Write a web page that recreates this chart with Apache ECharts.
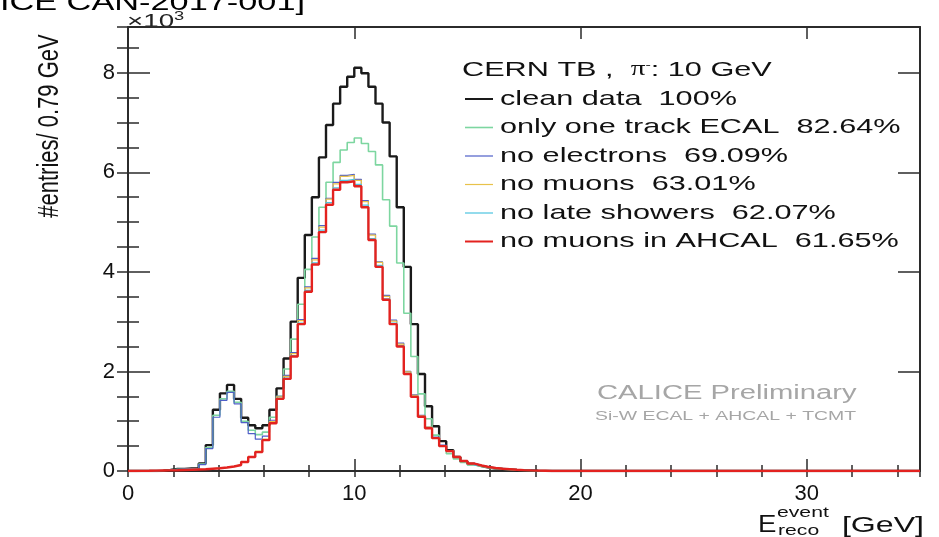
<!DOCTYPE html>
<html>
<head>
<meta charset="utf-8">
<title>Reconstructed energy, 10 GeV pions</title>
<script src="https://cdn.jsdelivr.net/npm/echarts@6/dist/echarts.min.js"></script>
<style>
  html, body { margin: 0; padding: 0; background: #ffffff; }
  #chart { width: 939px; height: 537px; }
</style>
</head>
<body>
<div id="chart"></div>
<script>
// Histogram binning (GeV) and axis ranges; counts are in units of 10^3 entries.
const binWidth = 0.3125;
const xRange = [0, 35];
const yRange = [0, 8.92];
const xTickStep = 10;
const xMinorStep = 2;
const yTickStep = 2;
const yMinorStep = 0.5;

// Selection steps, in the order the cuts are applied
const selectionNames = ['clean data', 'only one track ECAL', 'no electrons', 'no muons', 'no late showers', 'no muons in AHCAL'];
const selectionFractions = ['100%', '82.64%', '69.09%', '63.01%', '62.07%', '61.65%'];
const selectionColors = ['#1a1a1a', '#7dd6a0', '#4f5fc8', '#e8c24a', '#4cc4e0', '#e3221f'];
const selectionWidths = [2.4, 1.6, 1.2, 1.2, 1.2, 2.4];

// Bin contents (x10^3 entries per bin), bins starting at 0 GeV; later bins are empty.
const cleanData = [
  0, 0, 0, 0, 0.005, 0.02, 0.04, 0.04, 0.05, 0.05,
  0.15, 0.52, 1.23, 1.56, 1.73, 1.45, 1.07, 0.92, 0.86, 0.92,
  1.23, 1.66, 2.26, 3.0, 3.88, 4.74, 5.5, 6.3, 6.95, 7.38,
  7.72, 7.92, 8.1, 7.99, 7.72, 7.38, 7.0, 6.32, 5.3, 4.1,
  2.95, 1.95, 1.3, 0.9, 0.6, 0.42, 0.28, 0.19, 0.14, 0.1,
  0.07, 0.05, 0.04, 0.03, 0.02, 0.015, 0.01, 0.005, 0.003, 0
];
const oneTrackData = [
  0, 0, 0, 0, 0.005, 0.02, 0.035, 0.04, 0.045, 0.045,
  0.14, 0.47, 1.12, 1.45, 1.6, 1.38, 1.0, 0.82, 0.73, 0.78,
  1.08, 1.5, 2.05, 2.65, 3.35, 4.05, 4.7, 5.3, 5.8, 6.2,
  6.45, 6.6, 6.69, 6.58, 6.42, 6.15, 5.45, 4.92, 4.18, 3.17,
  2.3, 1.55, 1.05, 0.72, 0.5, 0.35, 0.24, 0.17, 0.12, 0.09,
  0.065, 0.045, 0.035, 0.025, 0.018, 0.012, 0.008, 0.004, 0.002, 0
];
const noElectronData = [
  0, 0, 0, 0, 0.005, 0.02, 0.035, 0.04, 0.04, 0.045,
  0.13, 0.45, 1.08, 1.42, 1.58, 1.35, 0.97, 0.75, 0.64, 0.7,
  1.02, 1.5, 1.92, 2.38, 3.04, 3.7, 4.27, 4.93, 5.48, 5.8,
  5.94, 5.96, 5.86, 5.43, 4.76, 4.2, 3.53, 3.03, 2.57, 2.0,
  1.53, 1.12, 0.88, 0.68, 0.52, 0.41, 0.29, 0.21, 0.155, 0.115,
  0.085, 0.065, 0.05, 0.04, 0.03, 0.02, 0.015, 0.01, 0.005, 0
];
const noMuonData = [
  0, 0.003, 0.005, 0.008, 0.01, 0.013, 0.016, 0.02, 0.026, 0.032,
  0.037, 0.047, 0.058, 0.075, 0.095, 0.13, 0.19, 0.29, 0.4, 0.64,
  0.99, 1.49, 1.9, 2.36, 3.02, 3.68, 4.24, 4.9, 5.46, 5.77,
  5.92, 5.94, 5.84, 5.41, 4.74, 4.19, 3.51, 3.01, 2.55, 1.99,
  1.52, 1.11, 0.88, 0.67, 0.51, 0.41, 0.285, 0.205, 0.153, 0.112,
  0.082, 0.061, 0.046, 0.036, 0.026, 0.018, 0.012, 0.008, 0.004, 0
];
const noLateShowerData = [
  0, 0.003, 0.005, 0.008, 0.01, 0.012, 0.015, 0.02, 0.025, 0.03,
  0.035, 0.045, 0.056, 0.071, 0.091, 0.122, 0.182, 0.283, 0.385, 0.625,
  0.97, 1.46, 1.865, 2.32, 2.97, 3.63, 4.18, 4.84, 5.39, 5.69,
  5.84, 5.86, 5.76, 5.34, 4.67, 4.13, 3.46, 2.97, 2.52, 1.96,
  1.5, 1.1, 0.865, 0.665, 0.503, 0.403, 0.282, 0.201, 0.151, 0.11,
  0.08, 0.06, 0.045, 0.035, 0.025, 0.018, 0.012, 0.008, 0.004, 0
];
const noMuonAhcalData = [
  0, 0.003, 0.005, 0.008, 0.01, 0.012, 0.015, 0.02, 0.025, 0.03,
  0.035, 0.045, 0.055, 0.07, 0.09, 0.12, 0.18, 0.28, 0.38, 0.62,
  0.96, 1.45, 1.85, 2.3, 2.95, 3.6, 4.15, 4.8, 5.35, 5.65,
  5.8, 5.82, 5.72, 5.3, 4.64, 4.1, 3.44, 2.95, 2.5, 1.95,
  1.49, 1.09, 0.86, 0.66, 0.5, 0.4, 0.28, 0.2, 0.15, 0.11,
  0.08, 0.06, 0.045, 0.035, 0.025, 0.018, 0.012, 0.008, 0.004, 0
];
const selectionData = [cleanData, oneTrackData, noElectronData, noMuonData, noLateShowerData, noMuonAhcalData];

// Step outline of a histogram: one point per lower bin edge, closed at the range end.
function histogramPoints(counts) {
  const pts = counts.map((v, k) => [k * binWidth, v]);
  pts.push([counts.length * binWidth, counts[counts.length - 1]]);
  pts.push([xRange[1], 0]);
  return pts;
}

const FONT = '"Liberation Sans", Arial, Helvetica, sans-serif';
const STRETCH = 1.46;   // wide lettering of the plot's text
const frameColor = '#2b2b2b';

function valueAxis(extra) {
  return Object.assign({
    type: 'value',
    splitLine: { show: false },
    axisLine: { show: true, onZero: false, lineStyle: { color: frameColor, width: 2 } },
    axisTick: { show: true, inside: true, lineStyle: { color: frameColor, width: 1.5 } },
    axisLabel: { show: false },
    silent: true
  }, extra);
}

const xCommon = { min: xRange[0], max: xRange[1] };
const yCommon = { min: yRange[0], max: yRange[1] };

const xAxes = [
  valueAxis(Object.assign({}, xCommon, {
    position: 'bottom', interval: xTickStep,
    axisTick: { show: true, inside: true, length: 12, lineStyle: { color: frameColor, width: 1.5 } },
    axisLabel: { show: true, showMaxLabel: false, margin: 12, fontSize: 22, fontFamily: FONT, color: '#111' }
  })),
  valueAxis(Object.assign({}, xCommon, {
    position: 'bottom', interval: xMinorStep, axisLine: { show: false },
    axisTick: { show: true, inside: true, length: 6, lineStyle: { color: frameColor, width: 1.5 } }
  })),
  valueAxis(Object.assign({}, xCommon, {
    position: 'top', interval: xTickStep,
    axisTick: { show: true, inside: true, length: 12, lineStyle: { color: frameColor, width: 1.5 } }
  })),
  valueAxis(Object.assign({}, xCommon, {
    position: 'top', interval: xMinorStep, axisLine: { show: false },
    axisTick: { show: true, inside: true, length: 6, lineStyle: { color: frameColor, width: 1.5 } }
  }))
];

const yAxes = [
  valueAxis(Object.assign({}, yCommon, {
    position: 'left', interval: yTickStep,
    axisTick: { show: true, inside: true, length: 22, lineStyle: { color: frameColor, width: 1.5 } },
    axisLabel: { show: true, showMaxLabel: false, margin: 13, fontSize: 22, fontFamily: FONT, color: '#111' }
  })),
  valueAxis(Object.assign({}, yCommon, {
    position: 'left', interval: yMinorStep, axisLine: { show: false },
    axisTick: { show: true, inside: true, length: 11, lineStyle: { color: frameColor, width: 1.5 } }
  })),
  valueAxis(Object.assign({}, yCommon, {
    position: 'right', interval: yTickStep,
    axisTick: { show: true, inside: true, length: 22, lineStyle: { color: frameColor, width: 1.5 } }
  })),
  valueAxis(Object.assign({}, yCommon, {
    position: 'right', interval: yMinorStep, axisLine: { show: false },
    axisTick: { show: true, inside: true, length: 11, lineStyle: { color: frameColor, width: 1.5 } }
  }))
];

const series = selectionData.map((counts, i) => ({
  name: selectionNames[i],
  type: 'line',
  step: 'end',
  data: histogramPoints(counts),
  xAxisIndex: 0,
  yAxisIndex: 0,
  symbol: 'none',
  silent: true,
  animation: false,
  clip: true,
  z: 2 + i,
  lineStyle: { color: selectionColors[i], width: selectionWidths[i] }
}));

// Legend block drawn as text + line samples
const legendX = 465, legendTop = 99, legendRow = 28.5;
const legendItems = [];
selectionNames.forEach((name, i) => {
  const y = legendTop + i * legendRow;
  legendItems.push({
    type: 'line', silent: true,
    shape: { x1: legendX, y1: y, x2: legendX + 28, y2: y },
    style: { stroke: selectionColors[i], lineWidth: Math.min(selectionWidths[i], 2) }
  });
  legendItems.push({
    type: 'text', silent: true, x: legendX + 35, y: y, scaleX: STRETCH,
    style: {
      text: name + '  ' + selectionFractions[i],
      fontSize: 21, fontFamily: FONT, fill: '#111',
      textAlign: 'left', textVerticalAlign: 'middle'
    }
  });
});

const graphics = [
  {
    type: 'text', silent: true, x: 305, y: 3.5, scaleX: STRETCH,
    style: { text: '[CALICE CAN-2017-001]', fontSize: 23.5, fontFamily: FONT, fill: '#000',
      textAlign: 'right', textVerticalAlign: 'middle' }
  },
  {
    type: 'text', silent: true, x: 127, y: 33, scaleX: STRETCH,
    style: { text: '×10{sup|3}', fontSize: 19, fontFamily: FONT, fill: '#222',
      textAlign: 'left', textVerticalAlign: 'bottom',
      rich: { sup: { fontSize: 12.5, fontFamily: FONT, fill: '#222', verticalAlign: 'top', padding: [0, 0, 10, 0] } } }
  },
  {
    type: 'text', silent: true, x: 50, y: 126, rotation: Math.PI / 2, scaleY: 1.3,
    style: { text: '#entries/ 0.79 GeV', fontSize: 22, fontFamily: FONT, fill: '#111',
      textAlign: 'center', textVerticalAlign: 'middle' }
  },
  {
    type: 'text', silent: true, x: 462, y: 70, scaleX: STRETCH,
    style: { text: 'CERN TB ,  {pi|π}{sup|-}: 10 GeV', fontSize: 21, fontFamily: FONT, fill: '#111',
      textAlign: 'left', textVerticalAlign: 'middle',
      rich: {
        pi: { fontSize: 20, fontFamily: '"Liberation Serif", serif', fill: '#111' },
        sup: { fontSize: 11, fontFamily: FONT, fill: '#111', padding: [0, 0, 10, 0] }
      } }
  },
  {
    type: 'text', silent: true, x: 597, y: 393, scaleX: STRETCH,
    style: { text: 'CALICE Preliminary', fontSize: 20, fontFamily: FONT, fill: '#a6a6a6',
      textAlign: 'left', textVerticalAlign: 'middle' }
  },
  {
    type: 'text', silent: true, x: 595, y: 416, scaleX: STRETCH,
    style: { text: 'Si-W ECAL + AHCAL + TCMT', fontSize: 13.3, fontFamily: FONT, fill: '#a6a6a6',
      textAlign: 'left', textVerticalAlign: 'middle' }
  },
  {
    type: 'text', silent: true, x: 758, y: 537, scaleX: 1.2,
    style: { text: 'E', fontSize: 23, fontFamily: FONT, fill: '#111',
      textAlign: 'left', textVerticalAlign: 'bottom' }
  },
  {
    type: 'text', silent: true, x: 777, y: 520, scaleX: STRETCH,
    style: { text: 'event', fontSize: 14.5, fontFamily: FONT, fill: '#111',
      textAlign: 'left', textVerticalAlign: 'bottom' }
  },
  {
    type: 'text', silent: true, x: 778, y: 538, scaleX: STRETCH,
    style: { text: 'reco', fontSize: 14.5, fontFamily: FONT, fill: '#111',
      textAlign: 'left', textVerticalAlign: 'bottom' }
  },
  {
    type: 'text', silent: true, x: 924, y: 537, scaleX: STRETCH,
    style: { text: '[GeV]', fontSize: 22, fontFamily: FONT, fill: '#111',
      textAlign: 'right', textVerticalAlign: 'bottom' }
  }
].concat(legendItems);

const chart = echarts.init(document.getElementById('chart'), null, { renderer: 'canvas' });
chart.setOption({
  backgroundColor: '#ffffff',
  animation: false,
  grid: { left: 128, right: 19, top: 27, bottom: 66, containLabel: false },
  xAxis: xAxes,
  yAxis: yAxes,
  series: series,
  graphic: graphics
});
</script>
</body>
</html>
